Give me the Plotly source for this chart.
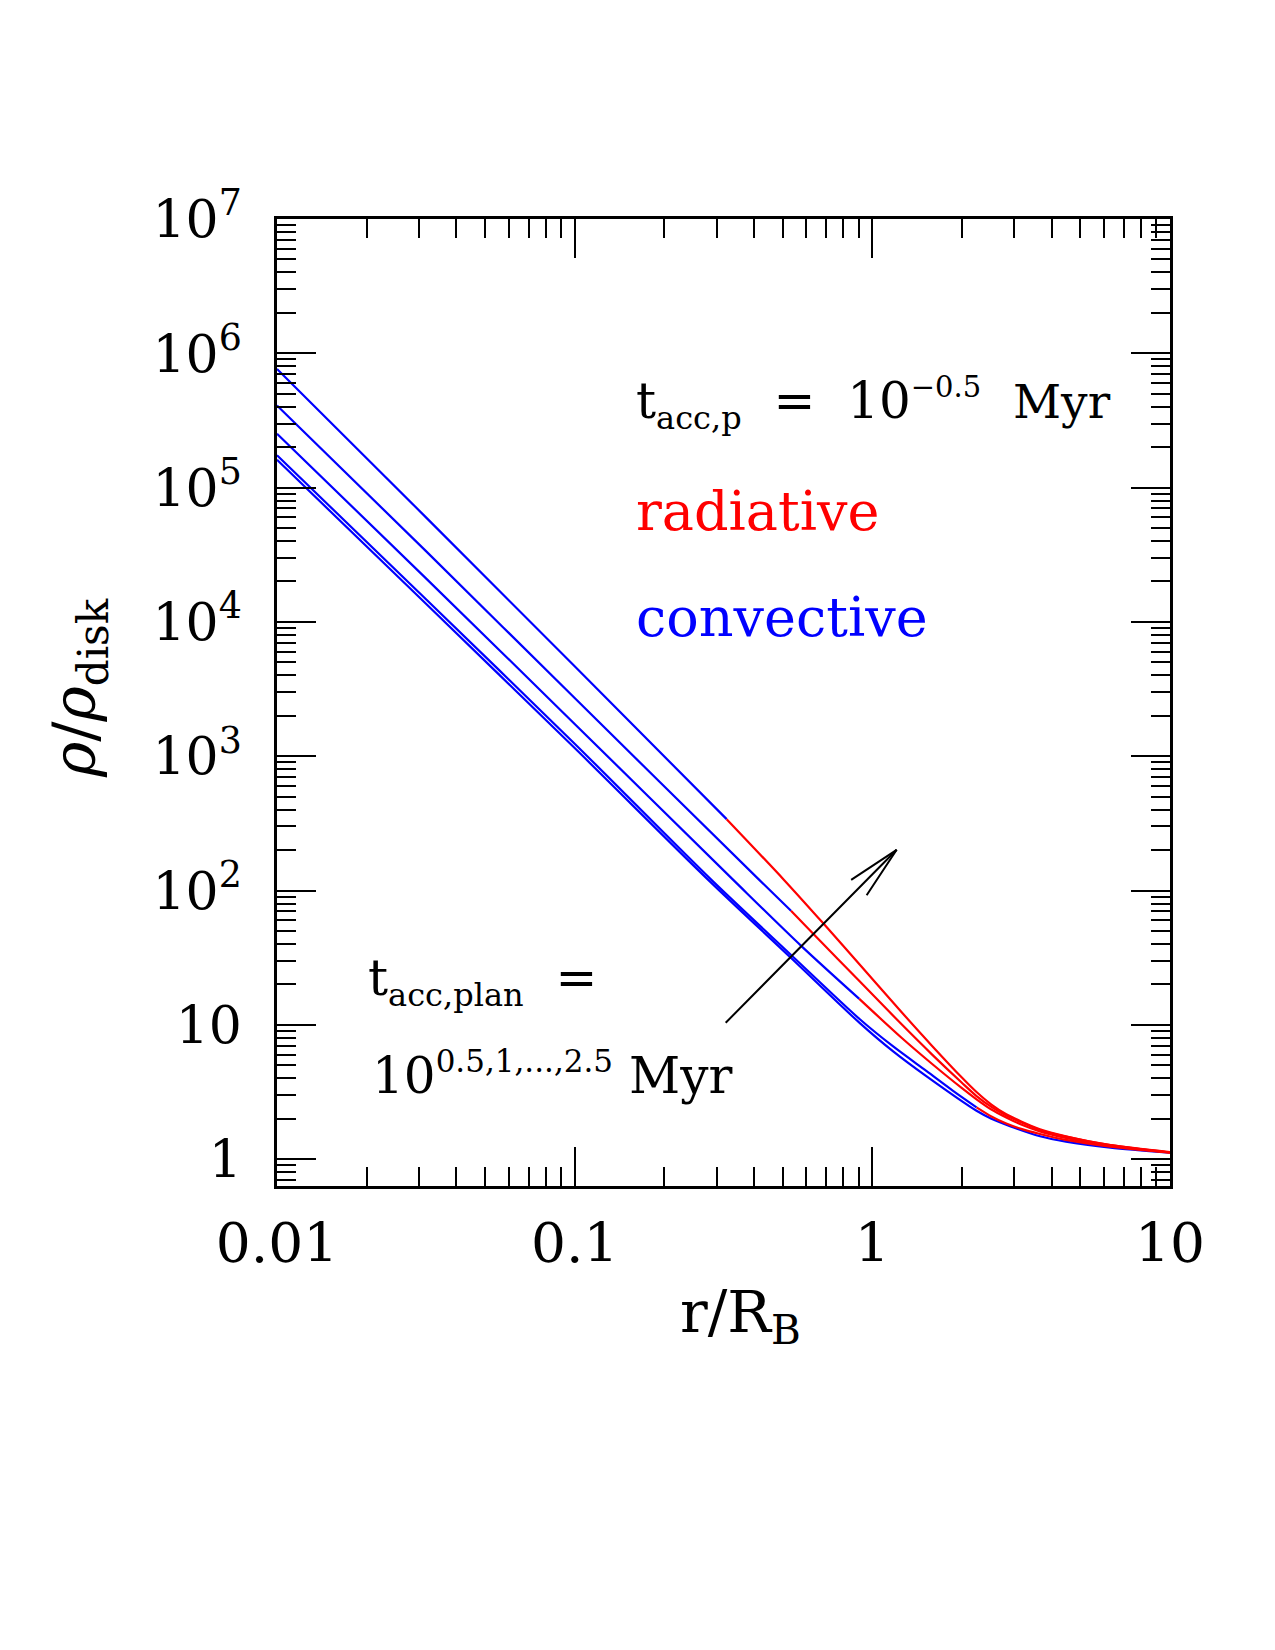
import math
import plotly.graph_objects as go

# ---------------- data ----------------
# convective (blue) parts of the five profiles: r/R_B and rho/rho_disk
conv_r = [
    [0.01, 0.0316, 0.1, 0.324],
    [0.01, 0.0316, 0.1, 0.417, 0.533],
    [0.01, 0.0316, 0.1, 0.341, 0.579, 0.904],
    [0.01, 0.0316, 0.1, 0.288, 0.529, 0.908, 1.175, 1.522, 1.862, 2.239],
    [0.01, 0.0316, 0.1, 0.281, 0.529, 0.908, 1.175, 1.522, 2.239, 2.512, 2.90, 3.66, 4.47, 6.31, 10],
]
conv_rho = [
    [7.64e5, 6.03e4, 4.67e3, 340],
    [4.09e5, 3.38e4, 2.71e3, 120, 70.8],
    [2.52e5, 2.12e4, 1.74e3, 120, 38.4, 15.6],
    [1.74e5, 1.48e4, 1.24e3, 120, 33.7, 11.0, 6.90, 4.52, 3.24, 2.43],
    [1.61e5, 1.37e4, 1.15e3, 120, 32.0, 10.3, 6.34, 4.13, 2.29, 2.00, 1.76, 1.48, 1.35, 1.22, 1.12],
]
# radiative (red) parts
rad_r = [
    [0.324, 0.505, 0.684, 0.908, 1.259, 1.585, 1.995, 2.239, 2.512, 2.818, 3.162, 3.656, 4.467, 6.31, 10],
    [0.533, 0.633, 0.908, 1.259, 1.585, 1.995, 2.239, 2.512, 2.818, 3.162, 3.656, 4.467, 6.31, 10],
    [0.904, 1.259, 1.585, 1.995, 2.239, 2.512, 2.818, 3.162, 3.656, 4.467, 6.31, 10],
    [2.239, 2.512, 2.818, 3.162, 3.656, 4.467, 6.31, 10],
]
rad_rho = [
    [340, 120, 57.0, 28.0, 12.3, 7.00, 4.07, 3.16, 2.55, 2.16, 1.91, 1.67, 1.48, 1.27, 1.13],
    [70.8, 47.6, 21.0, 10.0, 6.03, 3.72, 2.95, 2.45, 2.11, 1.88, 1.65, 1.47, 1.27, 1.12],
    [15.6, 7.94, 5.13, 3.39, 2.79, 2.34, 2.04, 1.81, 1.61, 1.44, 1.26, 1.12],
    [2.43, 2.08, 1.84, 1.68, 1.54, 1.39, 1.24, 1.12],
]

x_tickvals = [0.01, 0.1, 1, 10]
x_ticktext = ["0.01", "0.1", "1", "10"]
y_tickvals = [1, 10, 100, 1e3, 1e4, 1e5, 1e6, 1e7]
y_ticktext = ["1", "10", "10<sup>2</sup>", "10<sup>3</sup>", "10<sup>4</sup>",
              "10<sup>5</sup>", "10<sup>6</sup>", "10<sup>7</sup>"]
x_minor = [m * 10 ** k for k in (-2, -1, 0) for m in range(2, 10)]
y_minor = [0.7, 0.8, 0.9] + [m * 10 ** k for k in range(0, 7) for m in range(2, 10)]

# arrow (data values): tail and tip
arrow_tail = (0.318, 10.1)
arrow_tip = (1.207, 201)

BLUE = "#0000ff"
RED = "#ff0000"
FONT = "DejaVu Serif"

# ---------------- layout geometry ----------------
W, H = 1275, 1650
L, R, T, B = 277, 1170, 219, 1186


def px(x):
    return (x - L) / (R - L)


def py(y):
    return (B - y) / (B - T)


fig = go.Figure()
for r, rho in zip(conv_r, conv_rho):
    fig.add_trace(go.Scatter(x=r, y=rho, mode="lines",
                             line=dict(color=BLUE, width=2.2, shape="spline", smoothing=0.8),
                             showlegend=False, hoverinfo="skip"))
for r, rho in zip(rad_r, rad_rho):
    fig.add_trace(go.Scatter(x=r, y=rho, mode="lines",
                             line=dict(color=RED, width=2.2, shape="spline", smoothing=0.8),
                             showlegend=False, hoverinfo="skip"))

axis_common = dict(
    type="log", showline=True, linecolor="black", linewidth=2.5, mirror="ticks",
    ticks="inside", ticklen=39, tickwidth=1.6, tickcolor="black",
    showgrid=False, zeroline=False, tickmode="array",
)

fig.update_xaxes(**axis_common, range=[-2, 1], tickvals=x_tickvals, ticktext=x_ticktext,
                 ticklabelstandoff=7,
                 tickfont=dict(family=FONT, size=55, color="black"),
                 minor=dict(ticks="inside", ticklen=19, tickwidth=1.6, tickcolor="black",
                            tickvals=x_minor, showgrid=False))
fig.update_yaxes(**axis_common, range=[-0.2, 7], tickvals=y_tickvals, ticktext=y_ticktext,
                 ticklabelstandoff=22,
                 tickfont=dict(family=FONT, size=52, color="black"),
                 minor=dict(ticks="inside", ticklen=19, tickwidth=1.6, tickcolor="black",
                            tickvals=y_minor, showgrid=False))

NB = "\u00a0"
ann = []


def text_ann(x, y, text, color="black", size=50):
    ann.append(dict(xref="paper", yref="paper", x=px(x), y=py(y), text=text,
                    showarrow=False, xanchor="left", yanchor="middle",
                    font=dict(family=FONT, size=size, color=color)))


def small(s, size):
    return f"<span style='font-size:{size}px'>{s}</span>"


text_ann(634, 403,
         f"t<sub>{small('acc,p', 32)}</sub>{NB*2}={NB*2}10<sup>{small('−0.5', 29)}</sup>"
         f"{NB*2}<span style='font-size:47px'>Myr</span>")
text_ann(634, 512, "radiative", RED, 54)
text_ann(634, 617, "convective", BLUE, 54)
text_ann(366, 982, f"t<sub>{small('acc,plan', 32)}</sub>{NB*2}=")
text_ann(370, 1074,
         f"10<sup>{small('0.5,1,...,2.5', 31)}</sup>{NB}Myr")

# axis titles
ann.append(dict(xref="paper", yref="paper", x=px(740), y=py(1316),
                text="r/R<sub>B</sub>", showarrow=False, xanchor="center", yanchor="middle",
                font=dict(family=FONT, size=58, color="black")))
ann.append(dict(xref="paper", yref="paper", x=px(78), y=py(688),
                text="<i>ρ</i>/<i>ρ</i><sub>disk</sub>", showarrow=False, textangle=-90,
                xanchor="center", yanchor="middle",
                font=dict(family=FONT, size=60, color="black")))

# arrow shaft
tx, ty = math.log10(arrow_tip[0]), math.log10(arrow_tip[1])
ann.append(dict(x=tx, y=ty, xref="x", yref="y",
                ax=math.log10(arrow_tail[0]), ay=math.log10(arrow_tail[1]),
                axref="x", ayref="y", text="", showarrow=True, arrowhead=0,
                arrowwidth=2, arrowcolor="black", standoff=0, startstandoff=0))
for dx, dy in [(-47, 31), (-31, 47)]:
    ann.append(dict(x=tx, y=ty, xref="x", yref="y", ax=dx, ay=dy,
                    axref="pixel", ayref="pixel", text="", showarrow=True, arrowhead=0,
                    arrowwidth=2, arrowcolor="black", standoff=0, startstandoff=0))

fig.update_layout(
    width=W, height=H, autosize=False,
    margin=dict(l=L, r=W - R, t=T, b=H - B, pad=0),
    paper_bgcolor="white", plot_bgcolor="white",
    annotations=ann, showlegend=False,
)

fig.write_html("out.html")
